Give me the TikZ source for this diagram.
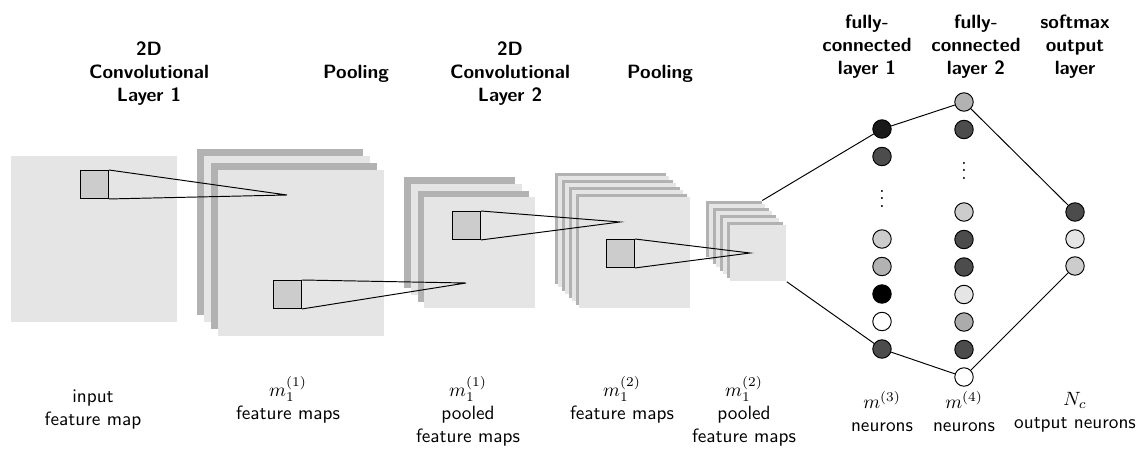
\documentclass[tikz,border=0pt]{standalone}
\newcommand{\mydots}{\vbox{\baselineskip=4pt\lineskiplimit=0pt\hbox{.}\hbox{.}\hbox{.}}}
\begin{document}
\begin{tikzpicture}[x=0.52pt,y=-0.52pt,
  map/.style={rectangle, inner sep=0pt, draw=none, anchor=north west},
  big/.style={map, minimum size=86.32pt},
  mid/.style={map, minimum size=57.72pt},
  small/.style={map, minimum size=29.12pt},
  kernel/.style={rectangle, anchor=north west, inner sep=0pt, minimum size=14.56pt, fill=gray!40, draw=black, line width=0.5pt},
  rf/.style={draw=black, line width=0.5pt},
  neuron/.style={circle, draw=black, line width=0.5pt, minimum size=9.6pt, inner sep=0pt},
  dotsnode/.style={anchor=south, inner sep=0pt},
  title/.style={font=\sffamily\bfseries, align=center, inner sep=0pt},
  lab/.style={font=\sffamily, align=center, inner sep=0pt}]
\useasboundingbox (0,0) rectangle (1138,453);

% input feature map
\node[big, fill=gray!20] (in) at (11,156) {};
\node[kernel] (k1) at (80,170) {};

% conv layer 1 feature maps
\foreach \i/\c in {0/gray!60,1/gray!20,2/gray!60,3/gray!20}
  \node[big, fill=\c] (s1-\i) at ({197+7*\i},{149+7*\i}) {};
\coordinate (a1) at (287,195);
\draw[rf] (k1.north east) -- (a1) -- (k1.south east);
\node[kernel] (k2) at (273,280) {};

% pooled maps 1
\foreach \i/\c in {0/gray!60,1/gray!20,2/gray!60,3/gray!20}
  \node[mid, fill=\c] (s2-\i) at ({404+6.67*\i},{177+6.67*\i}) {};
\coordinate (a2) at (466,283);
\draw[rf] (k2.north east) -- (a2) -- (k2.south east);
\node[kernel] (k3) at (452,211) {};

% conv layer 2 feature maps
\foreach \i/\c in {0/gray!60,1/gray!20,2/gray!60,3/gray!20,4/gray!60,5/gray!20,6/gray!60,7/gray!20}
  \node[mid, fill=\c] (s3-\i) at ({554.5+3.5*\i},{172.5+3.5*\i}) {};
\coordinate (a3) at (620,222);
\draw[rf] (k3.north east) -- (a3) -- (k3.south east);
\node[kernel] (k4) at (606,239) {};

% pooled maps 2
\foreach \i/\c in {0/gray!60,1/gray!20,2/gray!60,3/gray!20,4/gray!60,5/gray!20,6/gray!60,7/gray!20}
  \node[small, fill=\c] (s4-\i) at ({705.5+3.5*\i},{200.5+3.5*\i}) {};
\coordinate (a4) at (750,253);
\draw[rf] (k4.north east) -- (a4) -- (k4.south east);

% fully-connected layer 1
\foreach \j/\y/\c in {1/129/black!90,2/156.5/black!70,3/239/black!20,4/266.5/black!30,5/294/black,6/321.5/white,7/349/black!70}
  \node[neuron, fill=\c] (f1-\j) at (882,\y) {};
\node[dotsnode] (d1) at (882,208) {\mydots};

% fully-connected layer 2
\foreach \j/\y/\c in {1/102/black!30,2/129.5/black!70,3/212/black!20,4/239.5/black!70,5/267/black!70,6/294.5/black!10,7/322/black!33,8/349.5/black!70,9/377/white}
  \node[neuron, fill=\c] (f2-\j) at (964,\y) {};
\node[dotsnode] (d2) at (964,180) {\mydots};

% output layer
\foreach \j/\y/\c in {1/212/black!70,2/239/black!10,3/266/black!20}
  \node[neuron, fill=\c] (o-\j) at (1075,\y) {};

% connectors
\draw[rf] (s4-0.north east) -- (f1-1);
\draw[rf] (s4-7.south east) -- (f1-7);
\draw[rf] (f1-1) -- (f2-1);
\draw[rf] (f1-7) -- (f2-9);
\draw[rf] (f2-1) -- (o-1);
\draw[rf] (f2-9) -- (o-3);

% titles
\node[title] (t1) at (149,74) {2D\\Convolutional\\Layer 1};
\node[title] (t2) at (356,74) {Pooling};
\node[title] (t3) at (510,74) {2D\\Convolutional\\Layer 2};
\node[title] (t4) at (660,74) {Pooling};
\node[title] (t5) at (867,46.5) {fully-\\connected\\layer 1};
\node[title] (t6) at (976,46.5) {fully-\\connected\\layer 2};
\node[title] (t7) at (1075,46.5) {softmax\\output\\layer};

% bottom labels
\node[lab] (b1) at (93,410) {input\\feature map};
\node[lab] (b2) at (288,400) {$m_1^{(1)}$\\feature maps};
\node[lab] (b3) at (468,411.5) {$m_1^{(1)}$\\pooled\\feature maps};
\node[lab] (b4) at (622,400) {$m_1^{(2)}$\\feature maps};
\node[lab] (b5) at (744,411.5) {$m_1^{(2)}$\\pooled\\feature maps};
\node[lab] (b6) at (882,412) {$m^{(3)}$\\neurons};
\node[lab] (b7) at (964,412) {$m^{(4)}$\\neurons};
\node[lab] (b8) at (1075,412) {$N_c$\\output neurons};
\end{tikzpicture}
\end{document}
